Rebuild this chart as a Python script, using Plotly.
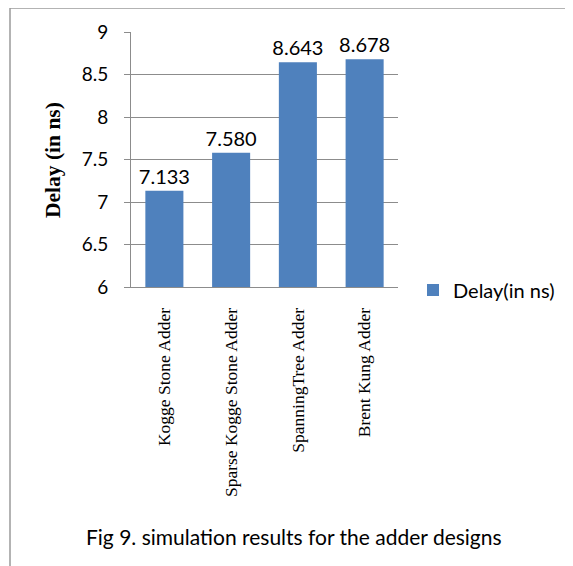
import plotly.graph_objects as go

categories = ["Kogge Stone Adder", "Sparse Kogge Stone Adder", "SpanningTree Adder", "Brent Kung Adder"]
delays = [7.133, 7.580, 8.643, 8.678]
value_labels = ["7.133", "7.580", "8.643", "8.678"]
series_name = "Delay(in ns)"
y_title = "Delay (in ns)"
caption = "Fig 9. simulation results for the adder designs"

OFF = 8  # page body margin
W, H = 573 - OFF, 566 - OFF
L, R, T, B = 131 - OFF, 398 - OFF, 32 - OFF, 287 - OFF  # plot area in figure pixels

def px(x):
    return (x - OFF - L) / (R - L)

def py(y):
    return (B - (y - OFF)) / (B - T)

fig = go.Figure()
fig.add_trace(go.Bar(
    x=categories, y=delays, name=series_name,
    marker=dict(color="#4F81BD", line=dict(width=0)),
    text=value_labels, textposition="outside", cliponaxis=False,
    constraintext="none",
    textfont=dict(family="Lato", size=20, color="#000000"),
))

grid = "#8C8C8C"
fig.update_layout(
    width=W, height=H,
    margin=dict(l=L, r=W - R, t=T, b=H - B, pad=0),
    paper_bgcolor="white", plot_bgcolor="white",
    bargap=0.43,
    showlegend=True,
    legend=dict(x=px(413), y=py(290), xanchor="left", yanchor="middle",
                font=dict(family="Lato", size=20, color="#000000"),
                bgcolor="rgba(0,0,0,0)"),
    xaxis=dict(showline=True, linecolor=grid, linewidth=1, ticks="",
               tickangle=-90, ticklabelstandoff=13,
               tickfont=dict(family="Liberation Serif", size=17.5, color="#000000"),
               showgrid=False, zeroline=False),
    yaxis=dict(range=[6, 9], dtick=0.5, tick0=6, showline=True, linecolor=grid, linewidth=1,
               ticks="outside", ticklen=6, tickcolor=grid, ticklabelstandoff=12,
               tickfont=dict(family="Lato", size=19, color="#000000"),
               showgrid=True, gridcolor=grid, gridwidth=1, zeroline=False),
    font=dict(family="Lato", color="#000000"),
)

fig.add_annotation(text="<b>" + y_title + "</b>", xref="paper", yref="paper",
                   x=px(53), y=py(160), textangle=-90, showarrow=False,
                   xanchor="center", yanchor="middle",
                   font=dict(family="Liberation Serif", size=21.5, color="#000000"))
fig.add_annotation(text=caption, xref="paper", yref="paper",
                   x=px(294), y=py(536), showarrow=False,
                   xanchor="center", yanchor="middle",
                   font=dict(family="Lato", size=21, color="#000000"))

frame = "#9A9A9A"
fig.add_shape(type="line", xref="paper", yref="paper",
              x0=px(10), y0=py(8), x1=px(W + 20), y1=py(8),
              line=dict(color=frame, width=1.5))
fig.add_shape(type="line", xref="paper", yref="paper",
              x0=px(10), y0=py(8), x1=px(10), y1=py(H + 20),
              line=dict(color=frame, width=1.5))

fig.write_html("out.html")
